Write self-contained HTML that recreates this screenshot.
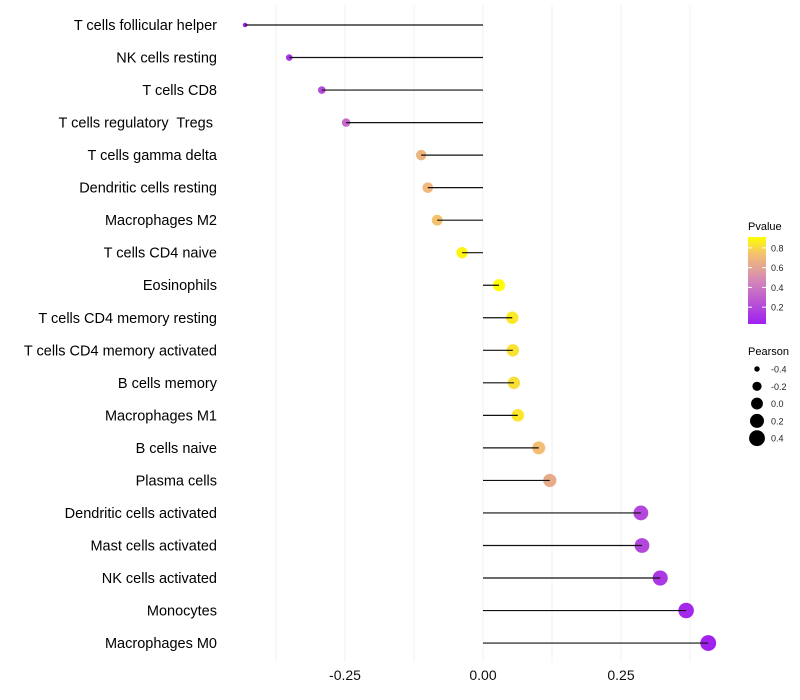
<!DOCTYPE html>
<html><head><meta charset="utf-8"><style>
body{margin:0;background:#fff;}
svg{font-family:"Liberation Sans",sans-serif;display:block;}
#ylabels text{white-space:pre;}
</style></head><body>
<svg id="chart" width="800" height="700">
<g id="grid"></g>
<g id="ylabels"></g>
<g id="marks"></g>
<g id="xticks"></g>
<g id="legend">
<defs><linearGradient id="pg" x1="0" y1="1" x2="0" y2="0">
<stop offset="0" stop-color="#A020F0"/><stop offset="0.5" stop-color="#D488B8"/><stop offset="0.8" stop-color="#F4C070"/><stop offset="1" stop-color="#FFFF00"/></linearGradient></defs>
<text x="748" y="230" font-size="11">Pvalue</text>
<rect x="748" y="237" width="18" height="87" fill="url(#pg)"/>
</g>
</svg>
<script>
const categories=["T cells follicular helper","NK cells resting","T cells CD8","T cells regulatory  Tregs ","T cells gamma delta","Dendritic cells resting","Macrophages M2","T cells CD4 naive","Eosinophils","T cells CD4 memory resting","T cells CD4 memory activated","B cells memory","Macrophages M1","B cells naive","Plasma cells","Dendritic cells activated","Mast cells activated","NK cells activated","Monocytes","Macrophages M0"];
const pearson=[-0.431,-0.351,-0.292,-0.248,-0.112,-0.100,-0.083,-0.038,0.029,0.053,0.054,0.056,0.063,0.101,0.121,0.286,0.288,0.321,0.368,0.408];
const pvalues=[0.05,0.12,0.22,0.35,0.68,0.70,0.74,0.88,0.91,0.85,0.83,0.82,0.84,0.72,0.64,0.2,0.2,0.14,0.07,0.05];
const xTicks=[-0.25,0,0.25];
const xTickLabels=["-0.25","0.00","0.25"];
const minorTicks=[-0.375,-0.125,0.125,0.375];
const sizeBreaks=[-0.4,-0.2,0.0,0.2,0.4];
const sizeLabels=["-0.4","-0.2","0.0","0.2","0.4"];
const pBreaks=[0.2,0.4,0.6,0.8];

const NS="http://www.w3.org/2000/svg";
const x=v=>483+v*552;
const y=i=>25+i*32.53;
const pMin=0.04,pMax=0.91;
const py=p=>323-(p-pMin)/(pMax-pMin)*86;
const rad=v=>Math.sqrt(4+(v+0.45)/0.9*62);
const stops=[[0,[160,32,240]],[0.5,[212,136,184]],[0.8,[244,192,112]],[1,[255,255,0]]];
function col(p){let t=Math.max(0,Math.min(1,(p-pMin)/(pMax-pMin)));
for(let k=1;k<stops.length;k++){if(t<=stops[k][0]){const a=stops[k-1],b=stops[k];const f=(t-a[0])/(b[0]-a[0]);
return "rgb("+a[1].map((c,j)=>Math.round(c+(b[1][j]-c)*f)).join(",")+")";}}return "rgb(255,255,0)";}
function mk(tag,attrs,parent){const e=document.createElementNS(NS,tag);for(const k in attrs)e.setAttribute(k,attrs[k]);parent.appendChild(e);return e;}

const grid=document.getElementById('grid');
minorTicks.concat(xTicks).forEach(v=>{
 const l=mk('line',{x1:x(v),x2:x(v),y1:5,y2:662,stroke:'#f0f0f0','stroke-width':1},grid);
 
 
});
const xt=document.getElementById('xticks');
xTicks.forEach((v,i)=>{
 const t=mk('text',{x:x(v),y:680,'font-size':14,'text-anchor':'middle',fill:'#111'},xt);
 t.textContent=xTickLabels[i];
 
 
});
const yl=document.getElementById('ylabels');
const mg=document.getElementById('marks');
categories.forEach((c,i)=>{
 const t=mk('text',{x:217,y:y(i)+5,'font-size':14.5,'text-anchor':'end',fill:'#000'},yl);
 t.textContent=c;
 
 
 const ci=mk('circle',{cx:x(pearson[i]),cy:y(i),r:rad(pearson[i]),fill:col(pvalues[i])},mg);
 
 
 const l=mk('line',{x1:x(0),x2:x(pearson[i]),y1:y(i),y2:y(i),stroke:'#111','stroke-width':1.2},mg);
 
 
});
const lg=document.getElementById('legend');
pBreaks.forEach(p=>{
 const tk=mk('line',{x1:748,x2:752,y1:py(p),y2:py(p),stroke:'#fff','stroke-width':1},lg);
 
 
 const tk2=mk('line',{x1:762,x2:766,y1:py(p),y2:py(p),stroke:'#fff','stroke-width':1},lg);
 
 
 const t=mk('text',{x:771,y:py(p)+3.5,'font-size':9,fill:'#222'},lg);
 t.textContent=p.toFixed(1);
 
 
});
const pt=mk('text',{x:748,y:355,'font-size':11},lg);
pt.textContent='Pearson';


sizeBreaks.forEach((v,i)=>{
 const cy=369+i*17.3;
 const c=mk('circle',{cx:757,cy:cy,r:rad(v),fill:'#000'},lg);
 
 
 const t=mk('text',{x:771,y:cy+3.5,'font-size':9,fill:'#222'},lg);
 t.textContent=sizeLabels[i];
 
 
});
</script>
</body></html>
